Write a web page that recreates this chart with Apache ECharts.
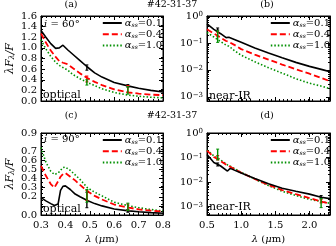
<!DOCTYPE html>
<html><head><meta charset="utf-8">
<script src="https://cdn.jsdelivr.net/npm/echarts@6/dist/echarts.min.js"></script>
<style>html,body{margin:0;padding:0;background:#fff}#c{width:336px;height:246px}</style>
</head><body><div id="c"></div>
<script>
// ---------- data ----------
const seriesNames = ['α_ss=0.1', 'α_ss=0.4', 'α_ss=1.0'];
const xTicksOpt = [0.3, 0.4, 0.5, 0.6, 0.7, 0.8];
const xTicksIR = [0.5, 1.0, 1.5, 2.0];
const yTicksA = [0, 0.2, 0.4, 0.6, 0.8, 1.0, 1.2, 1.4, 1.6];
const yTicksC = [0, 0.1, 0.2, 0.3, 0.4, 0.5, 0.6, 0.7, 0.8, 0.9];
const logDecades = [0.001, 0.01, 0.1, 1];

// panel (a): optical, i = 60
const xA = [0.30, 0.32, 0.34, 0.36, 0.375, 0.39, 0.41, 0.43, 0.46, 0.49, 0.52, 0.55, 0.60, 0.66, 0.70, 0.75, 0.80];
const a01 = [1.33, 1.20, 1.08, 0.99, 1.00, 1.05, 0.96, 0.88, 0.76, 0.64, 0.53, 0.45, 0.35, 0.28, 0.24, 0.20, 0.17];
const a04 = [1.27, 1.10, 0.95, 0.83, 0.75, 0.72, 0.69, 0.62, 0.52, 0.43, 0.36, 0.30, 0.22, 0.16, 0.14, 0.12, 0.11];
const a10 = [1.15, 0.98, 0.84, 0.73, 0.67, 0.63, 0.58, 0.50, 0.42, 0.35, 0.29, 0.23, 0.16, 0.11, 0.09, 0.07, 0.06];
const errXA = [0.488, 0.656];
const errA01 = [[0.58, 0.68], [0.26, 0.31]];
const errA04 = [[0.36, 0.47], [0.16, 0.29]];
const errA10 = [[0.30, 0.40], [0.13, 0.27]];

// panel (b): near-IR, i = 60
const xB = [0.5, 0.6, 0.7, 0.78, 0.82, 0.9, 1.0, 1.2, 1.4, 1.6, 1.8, 2.0, 2.2, 2.3];
const b01 = [0.51, 0.32, 0.22, 0.158, 0.162, 0.135, 0.107, 0.065, 0.042, 0.028, 0.019, 0.0135, 0.010, 0.0085];
const b04 = [0.32, 0.224, 0.158, 0.118, 0.110, 0.085, 0.059, 0.037, 0.024, 0.0158, 0.0105, 0.0072, 0.0047, 0.0038];
const b10 = [0.245, 0.166, 0.112, 0.083, 0.076, 0.052, 0.035, 0.020, 0.012, 0.0076, 0.0047, 0.0032, 0.0024, 0.0020];
const errXB = [0.656];
const errB01 = [[0.30, 0.36]];
const errB04 = [[0.17, 0.25]];
const errB10 = [[0.105, 0.28]];

// panel (c): optical, i = 90
const xC = [0.30, 0.32, 0.34, 0.355, 0.37, 0.38, 0.39, 0.40, 0.42, 0.44, 0.46, 0.49, 0.52, 0.55, 0.60, 0.66, 0.70, 0.75, 0.80];
const c01 = [0.19, 0.155, 0.125, 0.105, 0.12, 0.27, 0.315, 0.32, 0.28, 0.23, 0.20, 0.16, 0.125, 0.10, 0.066, 0.045, 0.035, 0.026, 0.020];
const c04 = [0.54, 0.43, 0.34, 0.30, 0.37, 0.42, 0.45, 0.46, 0.42, 0.38, 0.33, 0.26, 0.21, 0.17, 0.115, 0.080, 0.062, 0.048, 0.036];
const c10 = [0.74, 0.58, 0.48, 0.445, 0.46, 0.49, 0.52, 0.525, 0.49, 0.44, 0.39, 0.30, 0.25, 0.21, 0.14, 0.10, 0.08, 0.06, 0.045];
const errXC = [0.488, 0.656];
const errC01 = [[0.08, 0.25], [0.03, 0.06]];
const errC04 = [[0.16, 0.27], [0.05, 0.12]];
const errC10 = [[0.14, 0.28], [0.05, 0.13]];

// panel (d): near-IR, i = 90
const xD = [0.5, 0.6, 0.66, 0.7, 0.8, 0.84, 1.0, 1.2, 1.4, 1.6, 1.8, 2.0, 2.17, 2.3];
const d01 = [0.132, 0.063, 0.052, 0.045, 0.028, 0.036, 0.0234, 0.0138, 0.0085, 0.0056, 0.0042, 0.0032, 0.0024, 0.0021];
const d04 = [0.19, 0.105, 0.085, 0.071, 0.047, 0.042, 0.024, 0.0132, 0.0076, 0.0047, 0.0032, 0.0022, 0.0016, 0.00132];
const d10 = [0.20, 0.117, 0.095, 0.079, 0.050, 0.044, 0.025, 0.0132, 0.0071, 0.0042, 0.0028, 0.00195, 0.0016, 0.00135];
const errXD = [0.656, 2.17];
const errD01 = [[0.045, 0.06], [0.0022, 0.0028]];
const errD04 = [[0.08, 0.12], [0.0014, 0.0019]];
const errD10 = [[0.08, 0.22], [0.0009, 0.0021]];

// ---------- styling ----------
const FONT = 'DejaVu Serif';
const COLORS = ['#000000', '#ff0000', '#009000'];
const LSTYLE = [
  {type: 'solid', width: 1.6},
  {type: [6, 3], width: 1.8},
  {type: [1.5, 2], width: 1.6}
];

const grids = [
  {left: 41, top: 16, width: 122, height: 85},
  {left: 207, top: 16, width: 123, height: 85},
  {left: 41, top: 133, width: 122, height: 82},
  {left: 207, top: 133, width: 123, height: 82}
].map(g => Object.assign({show: true, borderColor: '#000', borderWidth: 1, backgroundColor: 'transparent'}, g));

const lblStyle = {color: '#000', fontFamily: FONT, fontSize: 10};
function supFmt(v) {
  const e = Math.round(Math.log10(v));
  const s = e < 0 ? '−' + (-e) : '' + e;
  return '{b|10}{s|' + s + '}';
}
const supRich = {b: {fontFamily: FONT, fontSize: 10, color: '#000', verticalAlign: 'bottom'},
                 s: {fontFamily: FONT, fontSize: 7, color: '#000', verticalAlign: 'top'}};

const xAxes = [], yAxes = [];
function linX(gi, min, max, ticks, minorSplit, showLabel, name) {
  const base = {type: 'value', gridIndex: gi, min: min, max: max,
    splitLine: {show: false}, axisLine: {show: true, onZero: false, lineStyle: {color: '#000', width: 1}},
    axisTick: {show: true, inside: true, length: 4, customValues: ticks, lineStyle: {color: '#000'}},
    minorTick: {show: true, splitNumber: minorSplit, length: 2, lineStyle: {color: '#000'}}};
  xAxes.push(Object.assign({}, base, {position: 'bottom',
    axisLabel: {show: showLabel, customValues: ticks, showMinLabel: true, showMaxLabel: true, hideOverlap: false,
      formatter: v => v.toFixed(1), margin: 5, ...lblStyle},
    name: name || '', nameLocation: 'middle', nameGap: 19,
    nameTextStyle: {color: '#000', fontFamily: FONT, fontSize: 10,
      rich: {i: {fontFamily: FONT, fontStyle: 'italic', fontSize: 10, color: '#000'},
             n: {fontFamily: FONT, fontSize: 10, color: '#000'}}}}));
  xAxes.push(Object.assign({}, base, {position: 'top', axisLabel: {show: false}}));
}
function linY(gi, min, max, ticks, minorSplit, name) {
  const base = {type: 'value', gridIndex: gi, min: min, max: max,
    splitLine: {show: false}, axisLine: {show: true, onZero: false, lineStyle: {color: '#000', width: 1}},
    axisTick: {show: true, inside: true, length: 4, customValues: ticks, lineStyle: {color: '#000'}},
    minorTick: {show: true, splitNumber: minorSplit, length: 2, lineStyle: {color: '#000'}}};
  yAxes.push(Object.assign({}, base, {position: 'left',
    axisLabel: {show: true, customValues: ticks, showMinLabel: true, showMaxLabel: true, hideOverlap: false,
      formatter: v => v.toFixed(1), margin: 4, ...lblStyle},
    name: name, nameLocation: 'middle', nameRotate: 90, nameGap: 25,
    nameTextStyle: {rich: {i: {fontFamily: FONT, fontStyle: 'italic', fontSize: 11, color: '#000', verticalAlign: 'top'},
                           sub: {fontFamily: FONT, fontStyle: 'italic', fontSize: 8, color: '#000', verticalAlign: 'bottom'}}}}));
  yAxes.push(Object.assign({}, base, {position: 'right', axisLabel: {show: false}}));
}
function logY(gi, min, max) {
  const minor = [];
  for (let e = -4; e < 0; e++) for (let m = 2; m <= 9; m++) { const v = m * Math.pow(10, e); if (v > min && v < max) minor.push(v); }
  const base = {type: 'log', logBase: 10, gridIndex: gi, min: min, max: max,
    splitLine: {show: false}, axisLine: {show: true, onZero: false, lineStyle: {color: '#000', width: 1}},
    minorTick: {show: false}};
  yAxes.push(Object.assign({}, base, {position: 'left',
    axisTick: {show: true, inside: true, length: 4, customValues: logDecades, lineStyle: {color: '#000'}},
    axisLabel: {show: true, customValues: logDecades, showMinLabel: true, showMaxLabel: true, hideOverlap: false,
      formatter: supFmt, margin: 4, rich: supRich, ...lblStyle}}));
  yAxes.push(Object.assign({}, base, {position: 'right',
    axisTick: {show: true, inside: true, length: 4, customValues: logDecades, lineStyle: {color: '#000'}},
    axisLabel: {show: false}}));
  yAxes.push(Object.assign({}, base, {position: 'left', axisLine: {show: false},
    axisTick: {show: true, inside: true, length: 2, customValues: minor, lineStyle: {color: '#000'}},
    axisLabel: {show: false}}));
  yAxes.push(Object.assign({}, base, {position: 'right', axisLine: {show: false},
    axisTick: {show: true, inside: true, length: 2, customValues: minor, lineStyle: {color: '#000'}},
    axisLabel: {show: false}}));
}

const yName = '{i|λF}{sub|λ}{i|/F}';
const xName = '{i|λ}{n| (}{i|μ}{n|m)}';
linX(0, 0.3, 0.8, xTicksOpt, 5, false);
linX(1, 0.5, 2.3, xTicksIR, 5, false);
linX(2, 0.3, 0.8, xTicksOpt, 5, true, xName);
linX(3, 0.5, 2.3, xTicksIR, 5, true, xName);
const yIdx = [];
yIdx.push(yAxes.length); linY(0, 0, 1.6, yTicksA, 4, yName);
yIdx.push(yAxes.length); logY(1, 7e-4, 1);
yIdx.push(yAxes.length); linY(2, 0, 0.9, yTicksC, 5, yName);
yIdx.push(yAxes.length); logY(3, 4.5e-4, 1);

const panels = [
  {x: xA, ys: [a01, a04, a10], ex: errXA, es: [errA01, errA04, errA10]},
  {x: xB, ys: [b01, b04, b10], ex: errXB, es: [errB01, errB04, errB10]},
  {x: xC, ys: [c01, c04, c10], ex: errXC, es: [errC01, errC04, errC10]},
  {x: xD, ys: [d01, d04, d10], ex: errXD, es: [errD01, errD04, errD10]}
];

const series = [];
panels.forEach((p, pi) => {
  p.ys.forEach((ys, si) => {
    series.push({type: 'line', name: seriesNames[si], xAxisIndex: pi * 2, yAxisIndex: yIdx[pi],
      data: p.x.map((x, k) => [x, ys[k]]), symbol: 'none', showSymbol: false, silent: true,
      z: 5 - si,
      lineStyle: Object.assign({color: COLORS[si]}, LSTYLE[si]), itemStyle: {color: COLORS[si]},
      emphasis: {disabled: true}, animation: false});
  });
  p.es.forEach((eb, si) => {
    series.push({type: 'custom', name: 'err' + pi + si, xAxisIndex: pi * 2, yAxisIndex: yIdx[pi],
      data: p.ex.map((x, k) => [x, eb[k][0], eb[k][1]]), encode: {x: 0, y: [1, 2]}, z: 6, silent: true,
      renderItem: function (params, api) {
        const p1 = api.coord([api.value(0), api.value(1)]);
        const p2 = api.coord([api.value(0), api.value(2)]);
        return {type: 'group', children: [
          {type: 'line', shape: {x1: p1[0], y1: p1[1], x2: p2[0], y2: p2[1]}, style: {stroke: COLORS[si], lineWidth: 1.4}},
          {type: 'line', shape: {x1: p1[0] - 1.5, y1: p1[1], x2: p1[0] + 1.5, y2: p1[1]}, style: {stroke: COLORS[si], lineWidth: 1}},
          {type: 'line', shape: {x1: p2[0] - 1.5, y1: p2[1], x2: p2[0] + 1.5, y2: p2[1]}, style: {stroke: COLORS[si], lineWidth: 1}}
        ]};
      }, animation: false});
  });
});

const legRich = {a: {fontFamily: FONT, fontStyle: 'italic', fontSize: 10, color: '#000', verticalAlign: 'top', lineHeight: 10},
                 s: {fontFamily: FONT, fontStyle: 'italic', fontSize: 6, color: '#000', verticalAlign: 'bottom', lineHeight: 10},
                 n: {fontFamily: FONT, fontSize: 10, color: '#000', verticalAlign: 'top', lineHeight: 10}};
function legFmt(name) {
  const parts = name.split('=');
  return '{a|α}{s|ss}{n|=' + parts[1] + '}';
}
const legPos = [{right: 174, top: 18}, {right: 6, top: 18}, {right: 174, top: 135}, {right: 6, top: 135}];
const legends = legPos.map(lp => Object.assign({
  data: seriesNames, orient: 'vertical', itemWidth: 19, itemHeight: 8, itemGap: 1.2, padding: 0,
  selectedMode: false, formatter: legFmt, itemStyle: {opacity: 0, borderWidth: 0},
  textStyle: {rich: legRich, padding: [0, 0, 0, -2]}, backgroundColor: 'transparent'
}, lp));

function txt(x, y, s, size, align, rich) {
  return {type: 'text', x: x, y: y, silent: true, z: 10,
    style: {text: s, fontFamily: FONT, fontSize: size || 10, fill: '#000', align: align || 'left', verticalAlign: 'middle', rich: rich}};
}
const annRich = {i: {fontFamily: FONT, fontStyle: 'italic', fontSize: 10, fill: '#000'},
                 n: {fontFamily: FONT, fontSize: 10, fill: '#000'}};
const graphics = [
  txt(71, 5, '(a)', 9.5, 'center'), txt(172, 5, '#42-31-37', 9.5, 'center'), txt(267, 5, '(b)', 9.5, 'center'),
  txt(71, 116, '(c)', 9.5, 'center'), txt(172, 116, '#42-31-37', 9.5, 'center'), txt(267, 116, '(d)', 9.5, 'center'),
  txt(44, 24, '{i|i}{n| = 60°}', 10, 'left', annRich),
  txt(44, 139, '{i|i}{n| = 90°}', 10, 'left', annRich),
  txt(43, 95, 'optical', 11), txt(43, 209, 'optical', 11),
  txt(209, 96, 'near-IR', 11), txt(209, 207, 'near-IR', 11)
];

const chart = echarts.init(document.getElementById('c'), null, {renderer: 'canvas'});
chart.setOption({
  animation: false, backgroundColor: '#fff',
  grid: grids, xAxis: xAxes, yAxis: yAxes, legend: legends, series: series, graphic: graphics,
  tooltip: {show: false}
});
</script></body></html>
